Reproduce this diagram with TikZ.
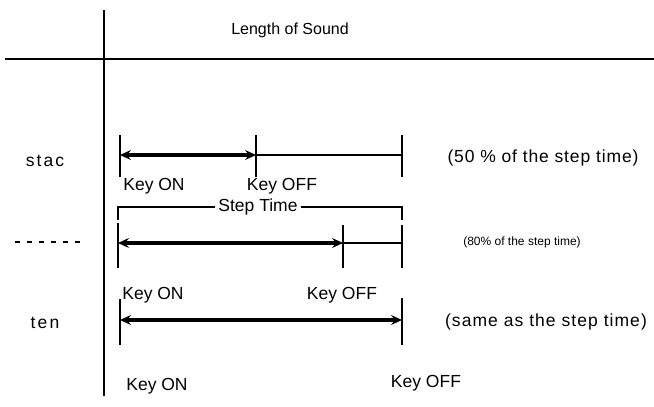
\documentclass[tikz,border=0pt]{standalone}
\usepackage{fontspec}
\setmainfont{Liberation Sans}
\usepackage{tikz}
\usetikzlibrary{arrows.meta}

\begin{document}
\begin{tikzpicture}[x=1pt,y=-1pt,
                    etiq/.style={font=\fontsize{17.5}{19}\selectfont,inner sep=1pt},
                    ancho/.style={font=\fontsize{17.5}{19}\selectfont\addfontfeatures{LetterSpace=#1},inner sep=1pt},
                    nota/.style={font=\fontsize{12}{14}\selectfont,inner sep=1pt},
                    marca/.style={line width=2.2pt},
                    flecha/.style={line width=3.4pt,<->},
                    >={Stealth[length=11pt,width=10pt,inset=4pt]}]
  \useasboundingbox (0,0) rectangle (654,407);
  % ejes
  \coordinate (ejeA) at (104,10);  \coordinate (ejeB) at (104,396);
  \coordinate (linA) at (5,59);    \coordinate (linB) at (654,59);
  \draw[line width=2.8pt] (ejeA) -- (ejeB);
  \draw[line width=2.2pt] (linA) -- (linB);
  \node[etiq,font=\fontsize{16}{18}\selectfont] (titulo) at (290,30) {Length of Sound};
  % stac
  \node[ancho=12] (stac) at (45,161) {stac};
  \coordinate (s0) at (120,155); \coordinate (s1) at (256,155); \coordinate (s2) at (402,155);
  \foreach \c in {s0,s1,s2} \draw[marca] ([yshift=20pt]\c) -- ([yshift=-22pt]\c);
  \draw[flecha] (s0) -- (s1);
  \draw[line width=2pt] (s1) -- (s2);
  \node[etiq] (sjon) at (154,186) {Key ON};
  \node[etiq] (sjoff) at (282,186) {Key OFF};
  \node[ancho=5] (s50) at (543,158) {(50 \% of the step time)};
  % normal
  \coordinate (guiA) at (15,242); \coordinate (guiB) at (86,242);
  \draw[line width=1.6pt,dash pattern=on 5pt off 7pt] (guiA) -- (guiB);
  \coordinate (stL) at (118,220); \coordinate (stR) at (402,220);
  \node[etiq,fill=white,inner sep=3pt] (st) at (258,207) {Step Time};
  \draw[line width=1.2pt] (stL) |- (st.west);
  \draw[line width=1.2pt] (st.east) -| (stR);
  \coordinate (n0) at (118,243); \coordinate (n1) at (343,243); \coordinate (n2) at (402,243);
  \draw[marca] ([yshift=20pt]n0) -- ([yshift=-25pt]n0);
  \draw[marca] ([yshift=18pt]n1) -- ([yshift=-25pt]n1);
  \draw[line width=1.2pt] ([yshift=18pt]n2) -- ([yshift=-25pt]n2);
  \draw[flecha] (n0) -- (n1);
  \draw[line width=2pt] (n1) -- (n2);
  \node[etiq] (njon) at (153,295) {Key ON};
  \node[etiq] (njoff) at (342,295) {Key OFF};
  \node[nota] (n80) at (522,242) {(80\% of the step time)};
  % ten
  \node[ancho=12] (ten) at (45,323) {ten};
  \coordinate (t0) at (120,320); \coordinate (t1) at (402,320);
  \draw[marca] ([yshift=21pt]t0) -- ([yshift=-25pt]t0);
  \draw[marca] ([yshift=22pt]t1) -- ([yshift=-25pt]t1);
  \draw[flecha] (t0) -- (t1);
  \node[etiq] (tjon) at (157,386) {Key ON};
  \node[etiq] (tjoff) at (426,383) {Key OFF};
  \node[ancho=6] (tigual) at (546,322) {(same as the step time)};
\end{tikzpicture}
\end{document}
